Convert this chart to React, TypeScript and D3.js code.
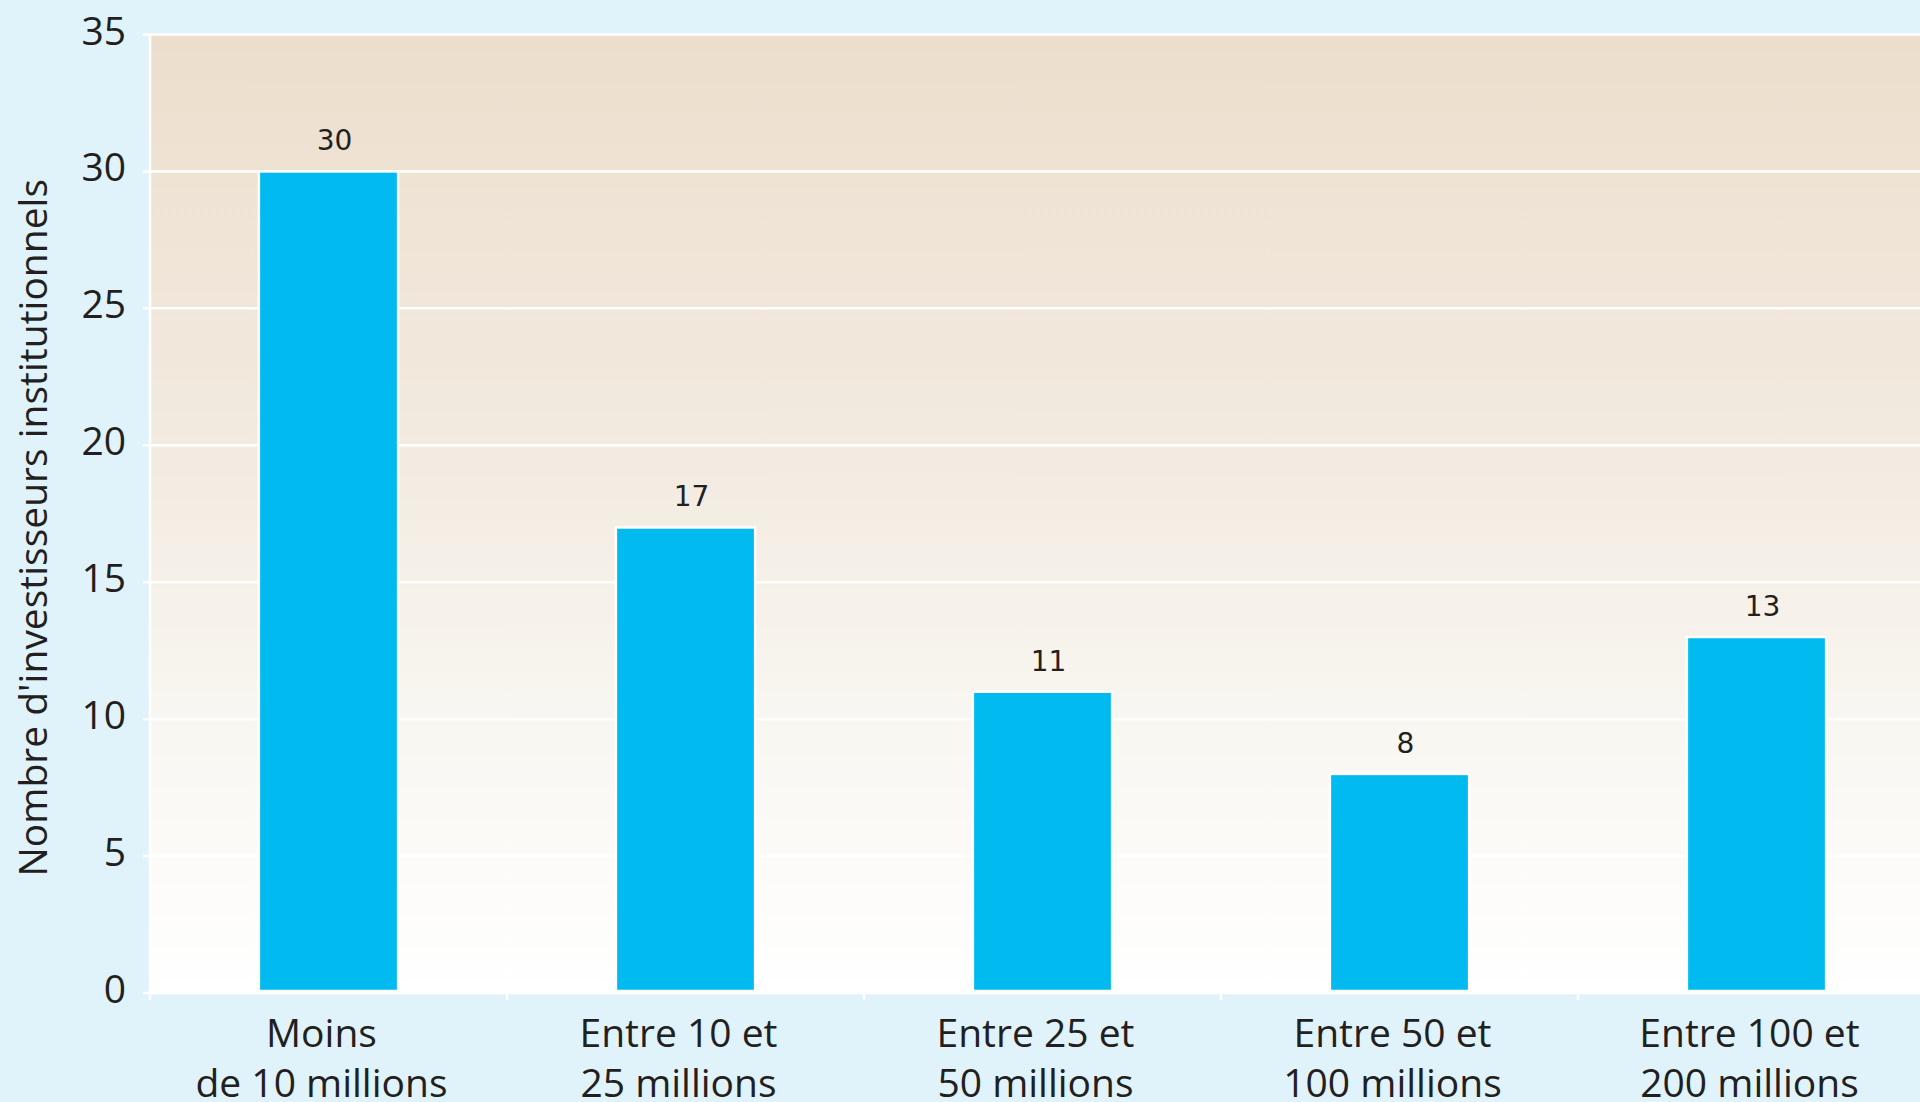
import React, { useEffect, useRef } from "react";
import * as d3 from "d3";

const categories = [
  ["Moins", "de 10 millions"],
  ["Entre 10 et", "25 millions"],
  ["Entre 25 et", "50 millions"],
  ["Entre 50 et", "100 millions"],
  ["Entre 100 et", "200 millions"],
];
const values = [30, 17, 11, 8, 13];
const yTicks = [0, 5, 10, 15, 20, 25, 30, 35];
const yTitle = "Nombre d'investisseurs institutionnels";

const width = 1920;
const height = 1102;

const App: React.FC = () => {
  const ref = useRef<SVGSVGElement | null>(null);

  useEffect(() => {
    const svg = d3.select(ref.current);
    svg.selectAll("*").remove();

    const left = 150;
    const step = 357;
    const textColor = "#231f20";
    const sans = "'Open Sans', 'Noto Sans', sans-serif";

    const x = d3
      .scaleBand<number>()
      .domain(d3.range(categories.length))
      .range([left, left + step * categories.length])
      .paddingInner(0.61)
      .paddingOuter(0.305);
    const y = d3.scaleLinear().domain([0, 35]).range([993, 34.5]);

    svg
      .append("rect")
      .attr("width", width)
      .attr("height", height)
      .attr("fill", "#e0f3fb");

    const grad = svg
      .append("defs")
      .append("linearGradient")
      .attr("id", "plotbg")
      .attr("x1", 0)
      .attr("y1", 0)
      .attr("x2", 0)
      .attr("y2", 1);
    grad.append("stop").attr("offset", "0%").attr("stop-color", "#ecdecc");
    grad.append("stop").attr("offset", "45%").attr("stop-color", "#f3ebe1");
    grad.append("stop").attr("offset", "70%").attr("stop-color", "#f8f6f0");
    grad.append("stop").attr("offset", "100%").attr("stop-color", "#ffffff");

    svg
      .append("rect")
      .attr("x", left)
      .attr("y", y(35))
      .attr("width", width - left)
      .attr("height", y(0) - y(35))
      .attr("fill", "url(#plotbg)");

    // grid lines + left ticks
    svg
      .append("g")
      .selectAll("line")
      .data(yTicks)
      .enter()
      .append("line")
      .attr("x1", left - 7)
      .attr("x2", width)
      .attr("y1", (d) => y(d))
      .attr("y2", (d) => y(d))
      .attr("stroke", "#ffffff")
      .attr("stroke-width", 2.5);

    svg
      .append("line")
      .attr("x1", left)
      .attr("x2", left)
      .attr("y1", y(35))
      .attr("y2", y(0) + 7)
      .attr("stroke", "#ffffff")
      .attr("stroke-width", 2.5);

    // bottom ticks at band boundaries
    svg
      .append("g")
      .selectAll("line")
      .data(d3.range(1, categories.length))
      .enter()
      .append("line")
      .attr("x1", (d) => left + d * step)
      .attr("x2", (d) => left + d * step)
      .attr("y1", y(0))
      .attr("y2", y(0) + 7)
      .attr("stroke", "#ffffff")
      .attr("stroke-width", 2.5);

    svg
      .append("g")
      .selectAll("text")
      .data(yTicks)
      .enter()
      .append("text")
      .attr("x", 126)
      .attr("y", (d) => y(d) + 10)
      .attr("text-anchor", "end")
      .attr("font-family", sans)
      .attr("font-size", 39)
      .attr("fill", textColor)
      .text((d) => d);

    // bars
    svg
      .append("g")
      .selectAll("rect")
      .data(values)
      .enter()
      .append("rect")
      .attr("x", (d, i) => x(i)!)
      .attr("y", (d) => y(d))
      .attr("width", x.bandwidth())
      .attr("height", (d) => y(0) - y(d) - 2)
      .attr("fill", "#00baf0")
      .attr("stroke", "#ffffff")
      .attr("stroke-width", 2.5);

    // value labels
    svg
      .append("g")
      .selectAll("text")
      .data(values)
      .enter()
      .append("text")
      .attr("x", (d, i) => x(i)! + x.bandwidth() / 2 + 6)
      .attr("y", (d) => y(d) - 21)
      .attr("text-anchor", "middle")
      .attr("font-family", "'DejaVu Sans', sans-serif")
      .attr("font-size", 28)
      .attr("fill", textColor)
      .text((d) => d);

    // category labels
    const cat = svg
      .append("g")
      .selectAll("text")
      .data(categories)
      .enter()
      .append("text")
      .attr("text-anchor", "middle")
      .attr("font-family", sans)
      .attr("font-size", 39)
      .attr("fill", textColor);
    cat
      .append("tspan")
      .attr("x", (d, i) => x(i)! + x.bandwidth() / 2 - 7)
      .attr("y", 1047)
      .text((d) => d[0]);
    cat
      .append("tspan")
      .attr("x", (d, i) => x(i)! + x.bandwidth() / 2 - 7)
      .attr("y", 1097)
      .text((d) => d[1]);

    svg
      .append("text")
      .attr("transform", `translate(47, ${(y(0) + y(35)) / 2 + 14}) rotate(-90)`)
      .attr("text-anchor", "middle")
      .attr("font-family", sans)
      .attr("font-size", 39)
      .attr("fill", textColor)
      .text(yTitle);
  }, []);

  return (
    <svg
      ref={ref}
      width={width}
      height={height}
      style={{ position: "absolute", left: 0, top: 0, display: "block" }}
    ></svg>
  );
};

export default App;
